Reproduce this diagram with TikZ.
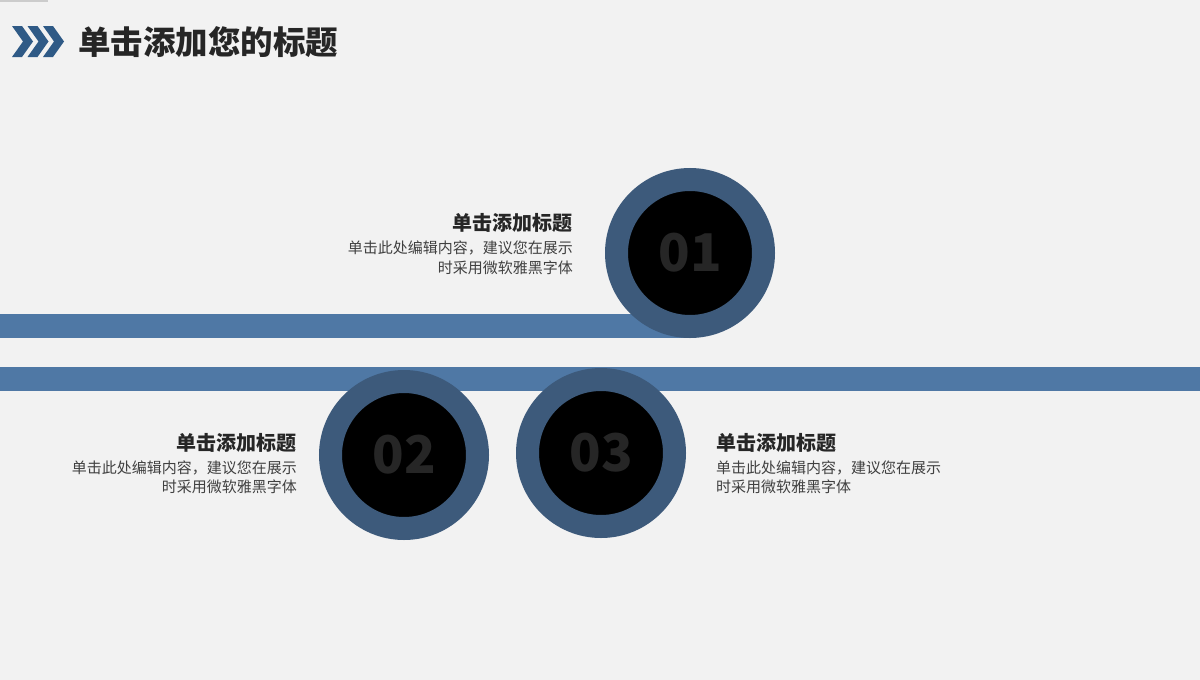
\documentclass[tikz,border=0pt]{standalone}
\usepackage{fontspec}
\newfontfamily\cjk{Noto Sans CJK SC}
\usepackage{tikz}
\definecolor{bgray}{HTML}{F2F2F2}
\definecolor{bandblue}{HTML}{4F78A5}
\definecolor{ringblue}{HTML}{3D5A7B}
\definecolor{chevblue}{HTML}{2F5A86}
\definecolor{txtdark}{HTML}{262626}
\definecolor{txtbody}{HTML}{404040}

\begin{document}
\begin{tikzpicture}
        [x=1pt,y=-1pt,%%%%%%%%%%%%%%%%%%%%%%%%%%%%%%
        band/.style={fill=bandblue},
        ring/.style={circle,fill=black,draw=ringblue,line width=23pt,minimum size=147pt,inner sep=0pt,
          font=\cjk\bfseries\fontsize{52}{52}\selectfont,text=txtdark},
        head/.style={font=\cjk\bfseries\fontsize{20}{24}\selectfont,text=txtdark,inner sep=0pt},
        body/.style={font=\cjk\fontsize{15}{20}\selectfont,text=txtbody,inner sep=0pt},
        ]%%%%%%%%%%%%%%%%%%%%%%%%%%%%%%

        \fill[bgray] (0,0) rectangle (1200,680);
        \fill[gray!40] (0,0) rectangle (48,1.5);

        % title
        \foreach \x in {0,15.5,31}{
          \fill[chevblue] (12+\x,26) -- (22+\x,26) -- (33+\x,41.5) -- (22+\x,57) -- (12+\x,57) -- (23+\x,41.5) -- cycle;
        }
        \node[anchor=west,inner sep=0pt,font=\cjk\bfseries\fontsize{32.5}{36}\selectfont,text=txtdark] (title) at (78,42) {单击添加您的标题};

        % bands
        \fill[band] (0,367) rectangle (1200,391);
        \fill[band] (0,314) rectangle (690,338);

        % circles
        \node[ring] (c1) at (690,253) {01};
        \node[ring] (c2) at (404,455) {02};
        \node[ring] (c3) at (601,453) {03};

        % texts
        \node[head,anchor=east] (h1) at (573,223) {单击添加标题};
        \node[body,anchor=east] (b1a) at (573,248) {单击此处编辑内容，建议您在展示};
        \node[body,anchor=east] (b1b) at (573,268) {时采用微软雅黑字体};

        \node[head,anchor=east] (h2) at (297,443) {单击添加标题};
        \node[body,anchor=east] (b2a) at (297,468) {单击此处编辑内容，建议您在展示};
        \node[body,anchor=east] (b2b) at (297,487) {时采用微软雅黑字体};

        \node[head,anchor=west] (h3) at (716,443) {单击添加标题};
        \node[body,anchor=west] (b3a) at (716,468) {单击此处编辑内容，建议您在展示};
        \node[body,anchor=west] (b3b) at (716,487) {时采用微软雅黑字体};
      \end{tikzpicture}
\end{document}
